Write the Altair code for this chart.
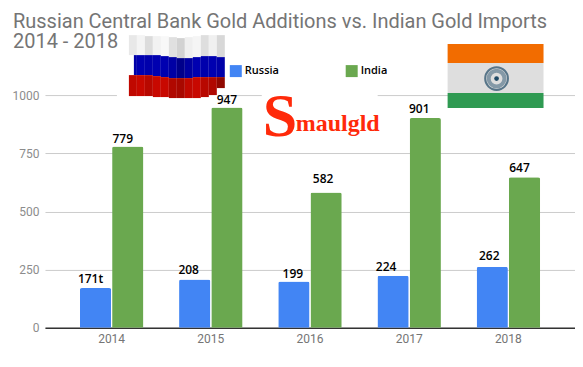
import altair as alt
import pandas as pd

years = ["2014", "2015", "2016", "2017", "2018"]
russia = [171, 208, 199, 224, 262]
india = [779, 947, 582, 901, 647]
russia_labels = ["171t", "208", "199", "224", "262"]
india_labels = ["779", "947", "582", "901", "647"]
series = ["Russia", "India"]
colors = ["#4285F4", "#6AA84F"]
# hand placed label nudges of the original chart (dx, dy from the bar top)
russia_nudge = [(-5, -9), (-6, -9), (-1, -8), (-7, -9), (-3, -11)]
india_nudge = [(-5, -8), (0, -7), (-3, -13), (-6, -9), (-5, -9)]

title_lines = ["Russian Central Bank Gold Additions vs. Indian Gold Imports", "2014 - 2018"]

W, H = 530.5, 233
OX, OY = 45, 95

rows = []
for i, y in enumerate(years):
    rows.append({"year": y, "series": "Russia", "value": russia[i]})
    rows.append({"year": y, "series": "India", "value": india[i]})
df = pd.DataFrame(rows)

x_scale = alt.Scale(domain=years, paddingInner=0.36, paddingOuter=0.352)
y_scale = alt.Scale(domain=[0, 1000], nice=False)
off_scale = alt.Scale(domain=series, paddingInner=0.03)
one = alt.Data(values=[{"a": 1}])


def box(x0, x1, y0, y1, color):
    return alt.Chart(one).mark_rect(color=color).encode(
        x=alt.value(x0 - OX), x2=alt.value(x1 - OX),
        y=alt.value(y0 - OY), y2=alt.value(y1 - OY))


def word(s, x, y, size, color="#FF2A0A", font="Liberation Serif", weight="bold"):
    return alt.Chart(one).mark_text(text=s, font=font, fontSize=size, fontWeight=weight,
                                    color=color, align="left", baseline="alphabetic").encode(
        x=alt.value(x - OX), y=alt.value(y - OY))


# flag decoration: (left, white top, blue top, red top, red bottom)
ru_x = [129, 137, 145, 153, 161, 169, 177, 185, 193, 201, 209, 217]
ru_white = [35, 35, 36, 36, 36, 37, 38, 37, 36, 35, 35, 35]
ru_blue = [55, 55, 55, 55, 56, 57, 58, 58, 57, 56, 56, 57]
ru_red = [75, 75, 75, 76, 77, 78, 78, 78, 77, 77, 77, 77]
ru_end = [96, 96, 96, 97, 97, 98, 98, 98, 98, 97, 95, 88]
ru_shade = ["#e8e8e8", "#f4f4f4", "#dcdcdc", "#f2f2f2", "#f8f8f8", "#e0e0e0",
            "#d2d2d2", "#efefef", "#f5f5f5", "#dedede", "#f0f0f0", "#d8d8d8"]
ru_blues = ["#0000a8", "#0000b0", "#0000ac", "#0000b0", "#0000b0", "#0000a4",
            "#00008a", "#0000a0", "#0000b0", "#0000ac", "#0000b0", "#0000a8"]
ru_reds = ["#c00800", "#c80800", "#b80800", "#c80800", "#c80800", "#b00800",
           "#a80800", "#c00800", "#c80800", "#b80800", "#b00800", "#900800"]

deco = [box(117, 218, 88, 100, "#ffffff"), box(262, 378, 90, 142, "#ffffff")]
for i, x0 in enumerate(ru_x):
    deco.append(box(x0, x0 + 8, ru_white[i], ru_blue[i], ru_shade[i]))
    deco.append(box(x0 + (5 if i == 0 else 0), x0 + 8, ru_blue[i], ru_red[i], ru_blues[i]))
    deco.append(box(x0, x0 + 8, ru_red[i], ru_end[i], ru_reds[i]))

deco += [
    box(448, 544, 44, 63, "#F26C00"),
    box(448, 544, 63, 93, "#DEDEDE"),
    box(448, 544, 93, 108, "#2F9A52"),
]
chakra = alt.Chart(one).mark_point(shape="circle", size=520, filled=False, stroke="#1F4A66",
                                   strokeWidth=2).encode(x=alt.value(497 - OX), y=alt.value(78.5 - OY))
hub = alt.Chart(one).mark_point(shape="circle", size=250, filled=False, stroke="#5F7C90",
                                strokeWidth=4).encode(x=alt.value(497 - OX), y=alt.value(78.5 - OY))
dot = alt.Chart(one).mark_point(shape="circle", size=22, filled=True, color="#1F4A66",
                                opacity=1).encode(x=alt.value(497 - OX), y=alt.value(78.5 - OY))
logo = [word("S", 263, 136, 62), word("maulgld", 296, 131, 24, font="Liberation Sans Narrow")]

bars = alt.Chart(alt.Data(values=df.to_dict("records"))).mark_bar(
    cornerRadiusTopLeft=2, cornerRadiusTopRight=2
).encode(
    x=alt.X("year:N", scale=x_scale, sort=years, title=None,
            axis=alt.Axis(labelAngle=0, labelFont="Roboto", labelFontSize=12, labelColor="#757575",
                          labelPadding=6, ticks=False, domainColor="#333333", domainWidth=1.5,
                          grid=False)),
    xOffset=alt.XOffset("series:N", scale=off_scale, sort=series),
    y=alt.Y("value:Q", scale=y_scale, title=None,
            axis=alt.Axis(values=[0, 250, 500, 750, 1000], format="d", labelFont="Roboto",
                          labelFontSize=12, labelColor="#8C8C8C", labelPadding=6, ticks=False,
                          domain=False, grid=True, gridColor="#CCCCCC", gridWidth=1)),
    color=alt.Color("series:N", scale=alt.Scale(domain=series, range=colors), sort=series,
                    legend=alt.Legend(title=None, orient="none", legendX=185, legendY=-30,
                                      direction="horizontal", symbolType="square", symbolSize=144,
                                      symbolStrokeWidth=0, symbolOpacity=1, labelFont="Open Sans",
                                      labelFontSize=11, labelFontWeight=600, labelColor="#000000",
                                      labelOffset=3, columnPadding=66, padding=0)),
)

labels = []
for name, vals, texts, nudges in [("Russia", russia, russia_labels, russia_nudge),
                                  ("India", india, india_labels, india_nudge)]:
    for y, v, t, (dx, dy) in zip(years, vals, texts, nudges):
        labels.append(
            alt.Chart(alt.Data(values=[{"year": y, "series": name, "value": v}])).mark_text(
                text=t, font="Open Sans", fontSize=12, fontWeight=600, color="#000000",
                dx=dx, dy=dy, baseline="middle", align="center"
            ).encode(
                x=alt.X("year:N", scale=x_scale, sort=years),
                xOffset=alt.XOffset("series:N", scale=off_scale, sort=series),
                y=alt.Y("value:Q", scale=y_scale),
            )
        )

chart = alt.layer(*deco, chakra, hub, dot, *logo, bars, *labels).properties(
    width=W, height=H,
    autosize=alt.AutoSizeParams(type="none"),
    padding={"left": 37, "top": 87, "right": 0, "bottom": 31},
    background="#ffffff",
    title=alt.TitleParams(title_lines, anchor="start", frame="group", dx=-32, offset=-17,
                          font="Roboto", fontSize=20, fontWeight="normal", color="#757575",
                          lineHeight=20),
).configure_view(stroke=None)

chart.save("out.html", embed_options={"renderer": "svg", "actions": False})
